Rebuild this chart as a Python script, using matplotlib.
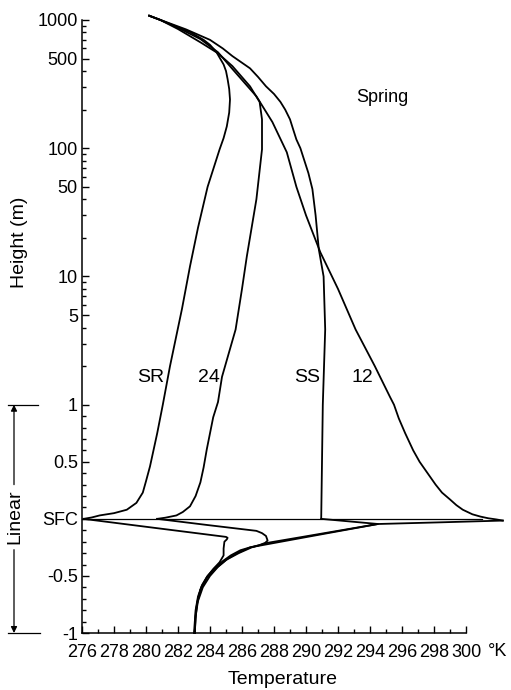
import numpy as np
import matplotlib
matplotlib.use('Agg')
import matplotlib.pyplot as plt
from matplotlib import transforms
from matplotlib.ticker import FixedLocator, FixedFormatter

plt.rcParams['font.family'] = ['Liberation Sans Narrow', 'Liberation Sans', 'DejaVu Sans']

# air profiles (height in m, temperature in K)
sr_air_h = [0, 0.012, 0.03, 0.05, 0.08, 0.14, 0.23, 0.33, 0.46, 0.75, 1.0, 2, 5.6, 12, 24, 50, 98, 120, 148, 190,
            240, 290, 346, 400, 450, 562, 640, 700, 805, 920, 1000, 1080]
sr_air_t = [276.1, 276.6, 277.1, 278.0, 278.8, 279.4, 279.8, 280.0, 280.25, 280.7, 281.05, 281.5, 282.25, 282.75,
            283.25, 283.85, 284.6, 284.85, 285.05, 285.2, 285.25, 285.2, 285.1, 285.0, 284.85, 284.4, 284.0,
            283.6, 282.75, 281.6, 280.9, 280.2]

h24_air_h = [0, 0.01, 0.03, 0.06, 0.11, 0.2, 0.32, 0.45, 0.61, 0.89, 1.05, 1.65, 3.86, 8, 14.3, 40, 98, 168, 230,
             304, 437, 550, 670, 850, 1000, 1080]
h24_air_t = [280.7, 281.2, 281.9, 282.3, 282.75, 283.1, 283.4, 283.6, 283.8, 284.2, 284.5, 284.75, 285.6, 286.0,
             286.3, 286.9, 287.25, 287.25, 287.1, 286.5, 285.4, 284.5, 283.4, 282.0, 280.9, 280.2]

ss_air_h = [0, 0.5, 1.0, 3.86, 10, 16.3, 30, 48, 64, 80, 100, 117, 140, 168, 200, 230, 265, 304, 360, 420, 523,
            600, 700, 845, 960, 1080]
ss_air_t = [290.95, 291.0, 291.05, 291.2, 291.1, 290.8, 290.6, 290.4, 290.15, 289.9, 289.65, 289.4, 289.2, 289.0,
            288.7, 288.4, 288.0, 287.5, 287.0, 286.5, 285.4, 284.8, 284.0, 282.5, 281.3, 280.2]

h12_air_h = [-0.015, -0.005, 0.005, 0.02, 0.04, 0.06, 0.08, 0.12, 0.17, 0.23, 0.3, 0.4, 0.5, 0.6, 0.75, 0.88, 1.0,
             1.15, 2, 3.86, 8, 15.4, 30, 50, 93, 160, 254, 415, 560, 710, 870, 1000, 1080]
h12_air_t = [302.3, 301.9, 301.4, 300.9, 300.4, 300.1, 299.8, 299.4, 299.0, 298.5, 298.1, 297.6, 297.1, 296.7,
             296.2, 295.8, 295.5, 295.25, 294.3, 293.1, 292.0, 290.9, 290.0, 289.4, 288.8, 287.9, 286.9, 285.4,
             284.5, 283.4, 282.0, 280.9, 280.2]

# soil profiles (depth as negative m)
sr_soil_h = [0, -0.08, -0.158, -0.166, -0.18, -0.2, -0.26, -0.32, -0.38, -0.44, -0.51, -0.6, -0.7, -0.8, -0.9, -1.0]
sr_soil_t = [276.1, 280.6, 285.0, 285.1, 285.05, 284.9, 284.85, 284.85, 284.6, 284.2, 283.8, 283.45, 283.25,
             283.12, 283.05, 283.0]

h24_soil_h = [0, -0.055, -0.105, -0.125, -0.15, -0.19, -0.21, -0.23, -0.25, -0.275, -0.32, -0.37, -0.43, -0.5,
              -0.58, -0.68, -0.8, -1.0]
h24_soil_t = [280.7, 283.9, 286.9, 287.25, 287.5, 287.6, 287.45, 287.1, 286.5, 285.9, 285.3, 284.8, 284.3, 283.85,
              283.5, 283.25, 283.1, 283.05]

ss_soil_h = [0, -0.045, -0.1, -0.16, -0.21, -0.25, -0.3, -0.36, -0.43, -0.52, -0.62, -0.74, -0.87, -1.0]
ss_soil_t = [290.95, 294.5, 292.2, 289.7, 287.6, 286.6, 285.8, 285.0, 284.4, 283.8, 283.4, 283.2, 283.1, 283.05]

h12_soil_h = [-0.015, -0.03, -0.045, -0.1, -0.16, -0.25, -0.3, -0.35, -0.42, -0.5, -0.6, -0.72, -0.85, -1.0]
h12_soil_t = [302.3, 298.5, 294.5, 292.35, 290.0, 286.5, 285.7, 285.1, 284.5, 284.0, 283.55, 283.25, 283.1, 283.05]

curve_names = ['SR', '24', 'SS', '12']
label_t = [280.3, 283.95, 290.1, 293.55]
label_h = 1.63

y_major = [-1, -0.5, 0, 0.5, 1, 5, 10, 50, 100, 500, 1000]
y_labels = ['-1', '-0.5', 'SFC', '0.5', '1', '5', '10', '50', '100', '500', '1000']
x_major = list(range(276, 301, 2))

K = 0.89  # one metre of the linear part relative to one decade


def fwd(h):
    h = np.asarray(h, dtype=float)
    return np.where(h >= 1, np.log10(np.maximum(h, 1)), (h - 1) * K)


def inv(z):
    z = np.asarray(z, dtype=float)
    return np.where(z >= 0, 10 ** np.clip(z, 0, 10), z / K + 1)


fig = plt.figure(figsize=(5.11, 6.90), dpi=100)
ax = fig.add_axes([82 / 511, 57 / 690, 26.5 * 16 / 511, 613 / 690])
ax.set_yscale('function', functions=(fwd, inv))

lw = 1.3
for hh, tt in [(sr_air_h, sr_air_t), (h24_air_h, h24_air_t), (ss_air_h, ss_air_t), (h12_air_h, h12_air_t),
               (sr_soil_h, sr_soil_t), (h24_soil_h, h24_soil_t), (ss_soil_h, ss_soil_t), (h12_soil_h, h12_soil_t)]:
    ax.plot(tt, hh, color='black', lw=lw, clip_on=False, solid_joinstyle='round')

# surface reference line
ax.plot([276, 301], [0, 0], color='black', lw=0.9, clip_on=False)

for name, t in zip(curve_names, label_t):
    ax.text(t, label_h, name, ha='center', va='center', fontsize=14)
ax.text(294.8, 250, 'Spring', ha='center', va='center', fontsize=13)

ax.set_xlim(276, 302.5)
ax.set_ylim(-1, 1000)

ax.spines['top'].set_visible(False)
ax.spines['right'].set_visible(False)
ax.spines['bottom'].set_bounds(276, 300)
for s in ['left', 'bottom']:
    ax.spines[s].set_linewidth(1.1)

ax.xaxis.set_major_locator(FixedLocator(x_major))
ax.xaxis.set_major_formatter(FixedFormatter([str(v) for v in x_major]))
ax.xaxis.set_minor_locator(FixedLocator(list(range(277, 300, 2))))

y_minor = [d * m for d in (1, 10, 100) for m in range(2, 10) if d * m not in (5, 50, 500)]
y_minor += [round(v, 1) for v in np.arange(-0.9, 1.0, 0.1) if round(v, 1) not in (-0.5, 0.0, 0.5)]
ax.yaxis.set_major_locator(FixedLocator(y_major))
ax.yaxis.set_major_formatter(FixedFormatter(y_labels))
ax.yaxis.set_minor_locator(FixedLocator(y_minor))

ax.tick_params(which='both', direction='in', width=1, labelsize=13)
ax.tick_params(which='major', length=5)
ax.tick_params(which='minor', length=3)
ax.tick_params(axis='x', which='both', pad=8)
ax.tick_params(axis='y', which='both', pad=3)

fig.text(498 / 511, 1 - 652 / 690, '°K', ha='center', va='center', fontsize=13)
fig.text(283 / 511, 1 - 679 / 690, 'Temperature', ha='center', va='center', fontsize=14)
fig.text(20 / 511, 1 - 242 / 690, 'Height (m)', ha='center', va='center', rotation=90, fontsize=14)
fig.text(15 / 511, 1 - 517 / 690, 'Linear', ha='center', va='center', rotation=90, fontsize=14)

# bracket marking the linear part of the axis
trans = transforms.blended_transform_factory(fig.transFigure, ax.transData)
xa = 14 / 511
arrow = dict(arrowstyle='-|>', lw=0.9, color='black', mutation_scale=9, shrinkA=0, shrinkB=0)
ax.annotate('', xy=(xa, 1), xycoords=trans, xytext=(xa, 0.3), textcoords=trans,
            arrowprops=arrow, annotation_clip=False)
ax.annotate('', xy=(xa, -1), xycoords=trans, xytext=(xa, -0.27), textcoords=trans,
            arrowprops=arrow, annotation_clip=False)
ax.plot([8 / 511, 38 / 511], [1, 1], transform=trans, color='black', lw=0.9, clip_on=False)
ax.plot([8 / 511, 40 / 511], [-1, -1], transform=trans, color='black', lw=0.9, clip_on=False)

fig.savefig('out.png', dpi=100)
